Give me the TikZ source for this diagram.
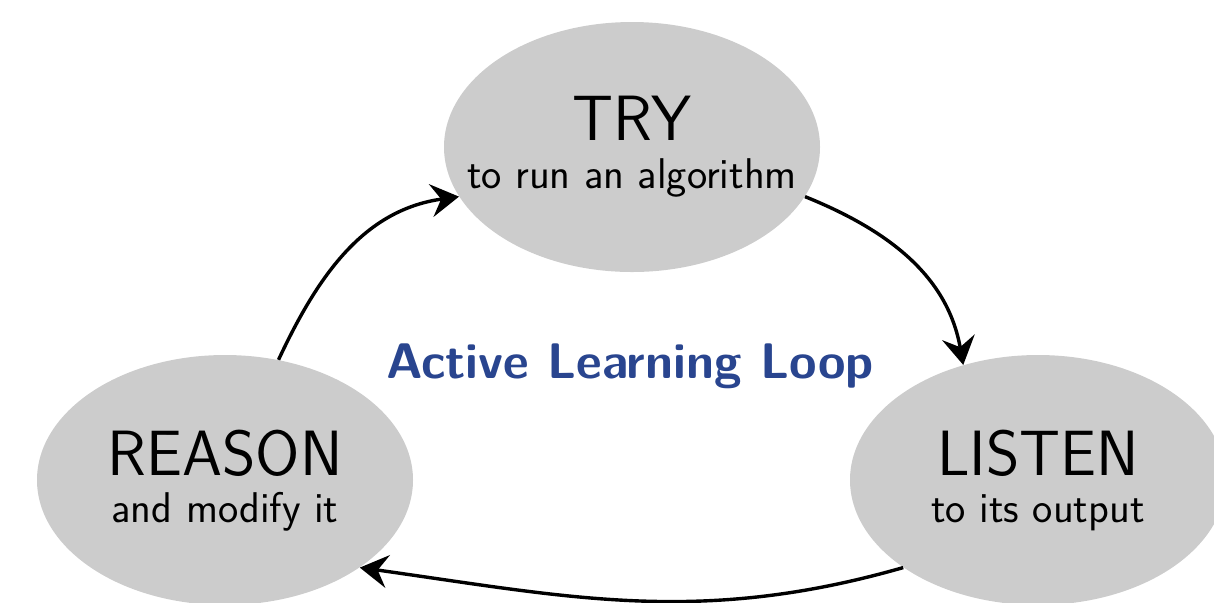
\documentclass[tikz,border=0pt]{standalone}
\usetikzlibrary{shapes.geometric,arrows.meta}
\definecolor{titleblue}{RGB}{41,69,143}
\begin{document}
\begin{tikzpicture}[x=0.5pt,y=0.5pt,
  blob/.style={ellipse,fill=gray!40,draw=none,minimum width=188pt,minimum height=125pt,inner sep=0pt},
  big/.style={anchor=base,font=\sffamily\fontsize{32}{38}\selectfont,inner sep=0pt},
  small/.style={anchor=base,font=\sffamily\fontsize{21.5}{26}\selectfont,inner sep=0pt},
  looparrow/.style={line width=1.7pt,-{Stealth[length=14pt,width=16.5pt,inset=5pt]}}]
\useasboundingbox (0,0) rectangle (1214,-602);
\clip (0,0) rectangle (1214,-602);
% ellipses
\node[blob] (try) at (632,-147) {};
\node[blob] (reason) at (225,-480) {};
\node[blob] (listen) at (1038,-480) {};
% texts
\node[big] (trytitle) at (632,-140) {TRY};
\node[small] (trysub) at (632,-188) {to run an algorithm};
\node[big] (reasontitle) at (225,-475) {REASON};
\node[small] (reasonsub) at (225,-522) {and modify it};
\node[big] (listentitle) at (1038,-475) {LISTEN};
\node[small] (listensub) at (1038,-522) {to its output};
\node[anchor=base,inner sep=0pt,text=titleblue,font=\sffamily\bfseries\fontsize{25}{30}\selectfont] (title) at (630,-378) {Active Learning Loop};
% arrows
\draw[looparrow] (reason.66) to[out=65,in=188] (try.196);
\draw[looparrow] (try.344) to[out=-22,in=100] (listen.123);
\draw[looparrow] (listen.213) to[out=196,in=-8] (reason.-33);
\end{tikzpicture}
\end{document}
